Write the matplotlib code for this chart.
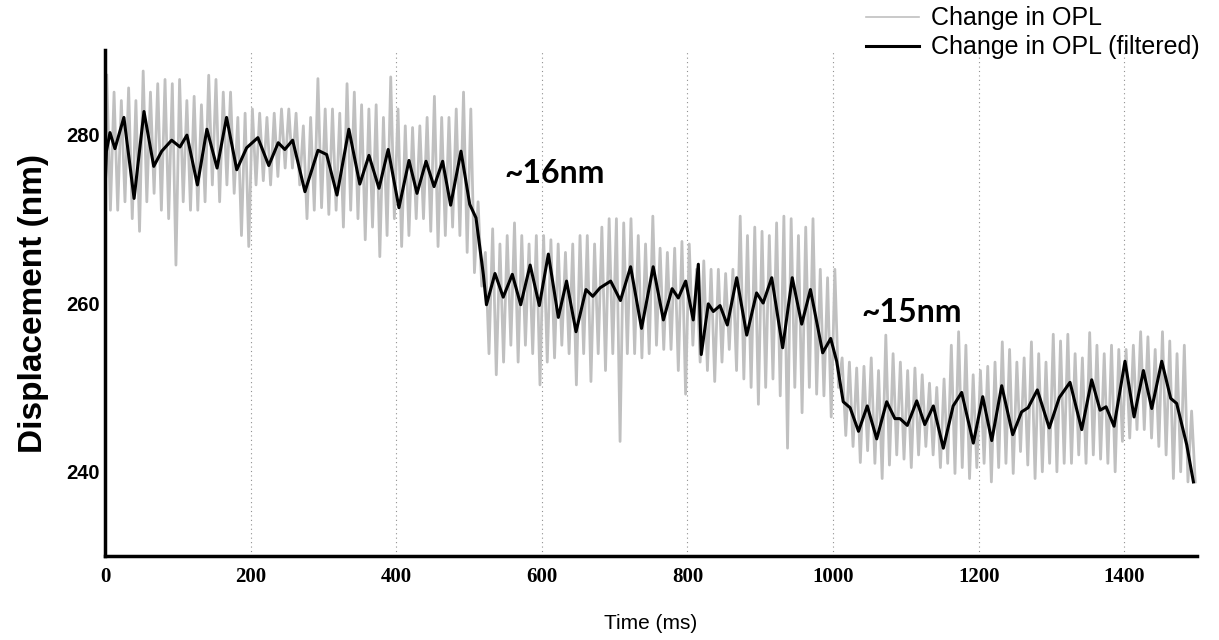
import matplotlib.pyplot as plt
import numpy as np

# filtered trace (black): time (ms), displacement (nm)
filt_t = [0, 2, 6.9, 13.7, 26, 40, 53.6, 67, 78, 91.6, 103, 112.6, 127, 140, 154, 167, 181,
          194.6, 210, 225, 238, 247, 257.8, 274.7, 292.6, 304.5, 318.7, 335, 350, 362.6,
          376.4, 389, 403.8, 417.6, 428.6, 441, 452, 463.8, 474.8, 489, 501, 509.6, 519.7,
          524, 535.7, 547, 559.5, 571, 584, 596.6, 609, 622.7, 634, 647, 660.7, 670, 680,
          694.6, 708, 722, 737, 753, 767, 779, 787.5, 797.6, 808, 815, 819, 828.7, 835.6,
          844.8, 854.8, 867.7, 881.5, 895, 904, 915.8, 930.8, 944, 957, 969, 985.8, 996.8,
          1005, 1014, 1023.4, 1035, 1047, 1060, 1073.7, 1085, 1092, 1102, 1115, 1126,
          1137.8, 1151.5, 1165, 1176.7, 1192.7, 1205.6, 1218, 1231.7, 1246.8, 1259, 1268,
          1280.6, 1297, 1310.8, 1325.5, 1341.6, 1355.3, 1366.8, 1375, 1386, 1401, 1413.5,
          1426.3, 1437.8, 1451.5, 1463.8, 1472, 1485.8, 1495]
filt_y = [273, 278, 280.2, 278.3, 282, 272.4, 282.7, 276.2, 278, 279.3, 278.5, 279.9, 274,
          280.6, 276, 282, 275.8, 278.4, 279.6, 276.3, 279, 278.2, 279.3, 273.2, 278.1, 277.6,
          272.8, 280.6, 274.1, 277.5, 273.6, 278.2, 271.3, 276.9, 273, 276.8, 273.8, 276.8,
          271.6, 278, 271.7, 270.1, 263.4, 259.8, 263.5, 260.7, 263.4, 259.8, 264.5, 259.7,
          265.8, 258.3, 262.6, 256.6, 261.6, 260.8, 261.8, 262.6, 260.3, 264.3, 257, 264.3,
          258, 261.7, 260.6, 262.6, 258, 264.6, 253.9, 259.9, 259, 259.7, 257.4, 263, 256.2,
          261.2, 260, 263, 254.7, 263, 257.5, 261.6, 254.1, 255.8, 253.1, 248.3, 247.6,
          244.8, 247.8, 243.9, 248.3, 246.3, 246.3, 245.5, 248.4, 245.6, 247.8, 242.8, 247.8,
          249.4, 243.4, 248.9, 243.7, 250.2, 244.4, 247.1, 247.6, 249.7, 245.2, 248.8, 250.6,
          245, 250.9, 247.3, 247.7, 245.4, 253.1, 246.5, 252, 247.5, 253.1, 248.7, 248.1,
          243.2, 238.8]

# raw trace (gray): upper / lower excursion in each 10 ms bin
raw_hi = [287, 285, 284, 285.5, 284, 287.5, 285, 286, 286.5, 286,
          286.5, 284, 284.5, 283.5, 287, 286.5, 285, 285, 282, 282.5,
          283, 282.5, 282, 282.5, 283, 283, 282.5, 281, 282, 286.6,
          283, 283, 282.5, 286, 285, 283.5, 283, 283.5, 282, 286.8,
          283, 281, 280.8, 281, 282, 284.5, 282, 282, 283, 285,
          283, 272, 266, 268.8, 267, 268, 269.5, 268, 267, 268,
          268, 267.5, 267, 266, 267, 268, 268, 267, 269, 270,
          270, 269.5, 270, 268, 267, 270.3, 266.5, 266, 266.5, 267.3,
          267, 264, 265, 264, 264, 263.5, 264, 270.3, 268, 269,
          268.5, 268, 269.5, 270.3, 270, 268, 269, 270, 264, 263,
          264, 253.5, 253, 252.3, 252.5, 253.5, 252, 256.2, 254, 253,
          252, 252.3, 251.5, 250.5, 250, 251, 255, 256.6, 255, 251.5,
          252, 252.5, 253, 255.4, 254.5, 253, 253.5, 255.4, 254, 253,
          256.3, 255.5, 256.3, 254, 253.5, 256.5, 255, 254, 255, 254.5,
          254.5, 255, 256.6, 256, 254.5, 256.6, 255.5, 254, 255, 247.2]
raw_lo = [271, 271, 272, 270, 268.5, 272, 273, 271, 270, 264.5,
          272, 271, 271, 272, 274, 272, 274, 273, 268, 266.7,
          274, 274.5, 274, 275, 276, 276, 274, 270, 271, 271.3,
          270.5, 271, 269, 271, 270, 267.5, 269, 265.5, 268, 270,
          266.7, 268, 270, 270, 268.5, 266.7, 268, 269, 268, 266,
          263.6, 262, 254, 251.5, 253, 255, 253, 255, 254, 250.3,
          253, 253.5, 255, 254, 250.3, 254, 250.7, 254, 252, 254,
          243.6, 254, 254, 253.5, 254, 255, 254.5, 254.5, 252, 249.2,
          255, 253, 252, 250.7, 253, 254.5, 252, 251, 250, 248,
          250, 251, 249, 242.8, 250, 247, 250, 249.2, 249, 246.5,
          250, 244.3, 243, 241.1, 242.5, 241, 239.2, 240.8, 242, 241.5,
          240.5, 242, 243, 242, 240.5, 241, 239.8, 240.5, 239.2, 240.5,
          241, 238.8, 240.5, 241, 239.8, 242.4, 240.8, 239.2, 240, 241,
          240, 241, 241, 242, 241, 242, 241.5, 241, 240, 243.6,
          244, 245, 245, 244, 243, 242, 239.2, 240, 238.8, 238.8]
bin_ms = 10

x_ticks = [0, 200, 400, 600, 800, 1000, 1200, 1400]
y_ticks = [240, 260, 280]

# zigzag the raw bins: high in the first half of each bin, low in the second
bin_start = np.arange(len(raw_hi)) * bin_ms
raw_t = np.column_stack([bin_start + bin_ms * 0.25, bin_start + bin_ms * 0.75]).ravel()
raw_y = np.column_stack([raw_hi, raw_lo]).ravel()

fig = plt.figure(figsize=(12.19, 6.4), dpi=100)
ax = fig.add_axes([0.0861, 0.131, 0.8959, 0.791])

ax.plot(raw_t, raw_y, color="#c0c0c0", lw=2.0, label="Change in OPL")
ax.plot(filt_t, filt_y, color="black", lw=2.2, label="Change in OPL (filtered)")

ax.set_xlim(0, 1500)
ax.set_ylim(230, 290)
ax.set_xticks(x_ticks)
ax.set_yticks(y_ticks)
ax.set_xticklabels([str(v) for v in x_ticks], family="Liberation Serif",
                   fontweight="bold", fontsize=15)
ax.set_yticklabels([str(v) for v in y_ticks], family="Liberation Sans",
                   fontweight="bold", fontsize=14.5)
ax.tick_params(axis="x", length=0, pad=8)
ax.tick_params(axis="y", length=0, pad=4)

for s in ["top", "right"]:
    ax.spines[s].set_visible(False)
for s in ["left", "bottom"]:
    ax.spines[s].set_linewidth(2.5)

ax.grid(axis="x", linestyle=(0, (1, 3)), color="#909090", lw=0.8)
ax.set_axisbelow(True)

ax.set_xlabel("Time (ms)", family="Liberation Sans", fontsize=15, labelpad=19)
ax.set_ylabel("Displacement (nm)", family="Liberation Sans", fontweight="bold",
              fontsize=24, labelpad=12)

ax.text(618, 275.3, "~16nm", family="Lato", fontweight="bold", fontsize=23,
        ha="center", va="center")
ax.text(1108, 258.9, "~15nm", family="Lato", fontweight="bold", fontsize=23,
        ha="center", va="center")

leg = fig.legend(loc="upper right", bbox_to_anchor=(1206 / 1219, 1.0), frameon=False,
                 prop={"family": "Liberation Sans", "size": 18}, handlelength=2.1,
                 handletextpad=0.5, labelspacing=0.2, borderaxespad=0.0, borderpad=0.25)
leg.get_lines()[0].set_linewidth(1.2)

fig.savefig("out.png", dpi=100)
